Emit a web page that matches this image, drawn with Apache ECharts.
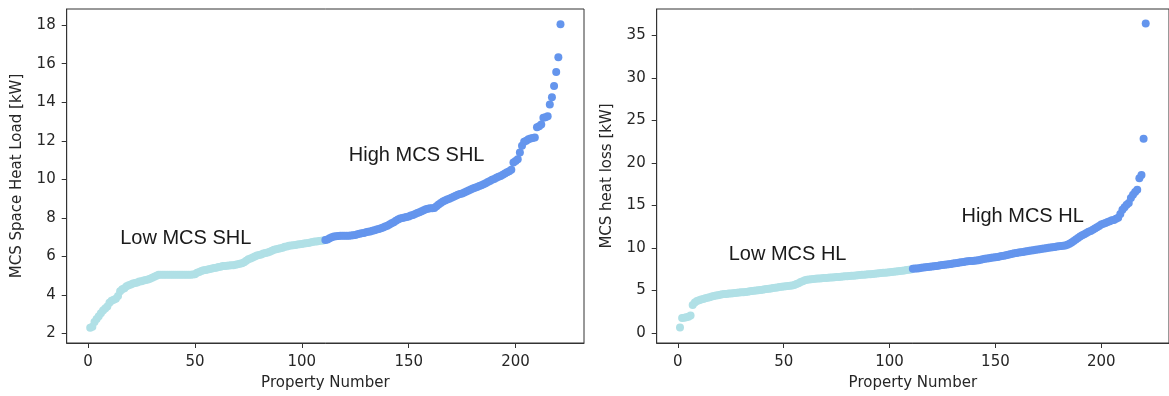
<!DOCTYPE html>
<html>
<head>
<meta charset="utf-8">
<script src="https://cdn.jsdelivr.net/npm/echarts@6/dist/echarts.min.js"></script>
<style>
html,body{margin:0;padding:0;background:#fff;}
#chart{width:1169px;height:396px;}
</style>
</head>
<body>
<div id="chart"></div>
<script>
// ---- data (property numbers start at 1; first 110 = "low", rest = "high") ----
var splitAt = 110;
var shlLow = [
2.3, 2.35, 2.6, 2.75, 2.9, 3.05, 3.2, 3.3, 3.4, 3.6,
3.7, 3.75, 3.8, 3.95, 4.2, 4.3, 4.35, 4.45, 4.5, 4.55,
4.6, 4.62, 4.65, 4.7, 4.72, 4.75, 4.78, 4.8, 4.85, 4.9,
4.95, 5.0, 5.05, 5.05, 5.05, 5.05, 5.05, 5.05, 5.05, 5.05,
5.05, 5.05, 5.05, 5.05, 5.05, 5.05, 5.05, 5.05, 5.06, 5.08,
5.15, 5.2, 5.25, 5.28, 5.3, 5.32, 5.35, 5.38, 5.4, 5.42,
5.45, 5.47, 5.5, 5.5, 5.52, 5.53, 5.55, 5.55, 5.57, 5.6,
5.62, 5.65, 5.7, 5.78, 5.85, 5.9, 5.95, 6.0, 6.05, 6.08,
6.1, 6.15, 6.18, 6.2, 6.25, 6.3, 6.35, 6.38, 6.4, 6.43,
6.45, 6.5, 6.52, 6.55, 6.57, 6.58, 6.6, 6.62, 6.63, 6.65,
6.67, 6.68, 6.7, 6.72, 6.75, 6.77, 6.78, 6.8, 6.82, 6.83
];
var shlHigh = [
6.85, 6.88, 6.95, 7.0, 7.03, 7.05, 7.06, 7.07, 7.07, 7.08,
7.08, 7.08, 7.09, 7.1, 7.12, 7.15, 7.18, 7.2, 7.22, 7.25,
7.28, 7.3, 7.33, 7.36, 7.4, 7.43, 7.47, 7.5, 7.55, 7.6,
7.66, 7.72, 7.78, 7.85, 7.92, 7.97, 8.0, 8.02, 8.05, 8.08,
8.12, 8.15, 8.2, 8.25, 8.3, 8.35, 8.4, 8.45, 8.48, 8.5,
8.5, 8.52, 8.6, 8.7, 8.78, 8.85, 8.9, 8.95, 9.0, 9.05,
9.1, 9.15, 9.2, 9.24, 9.27, 9.32, 9.37, 9.42, 9.47, 9.52,
9.57, 9.6, 9.65, 9.7, 9.75, 9.8, 9.86, 9.92, 9.98, 10.02,
10.08, 10.13, 10.18, 10.24, 10.3, 10.37, 10.42, 10.5, 10.88, 10.95,
11.05, 11.4, 11.74, 11.95, 12.0, 12.08, 12.12, 12.15, 12.17, 12.7,
12.75, 12.85, 13.2, 13.22, 13.28, 13.88, 14.26, 14.85, 15.57, 16.34, 18.05
];
var hlLow = [
0.65, 1.75, 1.8, 1.85, 1.9, 2.05, 3.3, 3.6, 3.75, 3.85,
3.95, 4.0, 4.1, 4.15, 4.2, 4.3, 4.35, 4.4, 4.45, 4.5,
4.55, 4.58, 4.6, 4.63, 4.65, 4.68, 4.7, 4.73, 4.75, 4.78,
4.8, 4.83, 4.86, 4.9, 4.93, 4.96, 5.0, 5.03, 5.06, 5.1,
5.13, 5.16, 5.2, 5.24, 5.28, 5.32, 5.36, 5.4, 5.43, 5.46,
5.5, 5.53, 5.56, 5.6, 5.65, 5.75, 5.85, 6.0, 6.1, 6.2,
6.25, 6.3, 6.33, 6.35, 6.38, 6.4, 6.42, 6.44, 6.46, 6.48,
6.5, 6.52, 6.54, 6.56, 6.58, 6.6, 6.62, 6.64, 6.66, 6.68,
6.7, 6.72, 6.74, 6.76, 6.8, 6.82, 6.84, 6.86, 6.88, 6.9,
6.92, 6.95, 6.98, 7.0, 7.02, 7.05, 7.08, 7.1, 7.12, 7.15,
7.18, 7.2, 7.23, 7.26, 7.3, 7.33, 7.36, 7.4, 7.43, 7.46
];
var hlHigh = [
7.55, 7.58, 7.6, 7.63, 7.66, 7.7, 7.72, 7.75, 7.78, 7.82,
7.85, 7.88, 7.92, 7.96, 8.0, 8.03, 8.06, 8.1, 8.13, 8.16,
8.2, 8.24, 8.28, 8.32, 8.36, 8.4, 8.43, 8.46, 8.48, 8.5,
8.53, 8.57, 8.62, 8.67, 8.72, 8.76, 8.8, 8.84, 8.87, 8.9,
8.95, 9.0, 9.05, 9.1, 9.15, 9.2, 9.26, 9.32, 9.37, 9.42,
9.46, 9.5, 9.54, 9.58, 9.62, 9.66, 9.7, 9.74, 9.78, 9.82,
9.86, 9.9, 9.94, 9.98, 10.02, 10.06, 10.1, 10.13, 10.16, 10.2,
10.23, 10.26, 10.3, 10.38, 10.5, 10.65, 10.82, 11.0, 11.18, 11.35,
11.5, 11.62, 11.75, 11.9, 12.0, 12.15, 12.3, 12.45, 12.6, 12.75,
12.85, 12.95, 13.05, 13.15, 13.25, 13.3, 13.45, 13.55, 14.0, 14.5,
14.8, 15.1, 15.3, 15.87, 16.25, 16.6, 16.85, 18.2, 18.6, 22.85, 36.4
];
var xTicks = [0, 50, 100, 150, 200];
var shlTicks = [2, 4, 6, 8, 10, 12, 14, 16, 18];
var hlTicks = [0, 5, 10, 15, 20, 25, 30, 35];
var xLabel = 'Property Number';
var shlYLabel = 'MCS Space Heat Load [kW]';
var hlYLabel = 'MCS heat loss [kW]';
var shlNotes = [['Low MCS SHL', 15, 6.94], ['High MCS SHL', 122, 11.22]];
var hlNotes = [['Low MCS HL', 24, 9.22], ['High MCS HL', 134, 13.74]];

// ---- build ----
var lowColor = '#B0E0E6', highColor = '#6495ED';
var tickFont = {fontFamily: 'DejaVu Sans', fontSize: 15, color: '#262626'};
function pts(arr, start) { return arr.map(function (v, i) { return [start + i, v]; }); }

function xAxis(gi) {
  return {
    type: 'value', gridIndex: gi, min: -10, max: 232,
    name: xLabel, nameLocation: 'middle', nameGap: 33,
    nameTextStyle: {fontFamily: 'DejaVu Sans', fontSize: 15, color: '#262626'},
    axisLine: {show: true, onZero: false, lineStyle: {color: '#333', width: 1}},
    axisTick: {show: true, length: 5, lineStyle: {color: '#333'}, customValues: xTicks},
    axisLabel: Object.assign({margin: 12, customValues: xTicks}, tickFont),
    splitLine: {show: false}
  };
}
function yAxis(gi, mn, mx, ticks, name) {
  return {
    type: 'value', gridIndex: gi, min: mn, max: mx,
    name: name, nameLocation: 'middle', nameGap: 42,
    nameTextStyle: {fontFamily: 'DejaVu Sans', fontSize: 15, color: '#262626'},
    axisLine: {show: true, onZero: false, lineStyle: {color: '#333', width: 1}},
    axisTick: {show: true, length: 5, lineStyle: {color: '#333'}, customValues: ticks},
    axisLabel: Object.assign({margin: 11, customValues: ticks}, tickFont),
    splitLine: {show: false}
  };
}
function scatter(gi, data, color) {
  return {
    type: 'scatter', xAxisIndex: gi, yAxisIndex: gi, data: data,
    symbolSize: 8, itemStyle: {color: color, opacity: 1}, silent: true, animation: false
  };
}
function notes(gi, list) {
  return {
    type: 'scatter', xAxisIndex: gi, yAxisIndex: gi, symbolSize: 0, silent: true, animation: false,
    itemStyle: {color: '#000', opacity: 1},
    data: list.map(function (n) { return {value: [n[1], n[2]], name: n[0]}; }),
    label: {
      show: true, position: [0, 0], align: 'left', verticalAlign: 'middle',
      formatter: function (p) { return p.name; },
      fontFamily: 'Liberation Sans', fontSize: 20, color: '#1a1a1a',
      textBorderWidth: 0, opacity: 1
    },
    z: 5
  };
}

var chart = echarts.init(document.getElementById('chart'), null, {renderer: 'canvas'});
chart.setOption({
  animation: false,
  backgroundColor: '#fff',
  grid: [
    {left: 66.7, top: 9, width: 517.3, height: 337.7, show: true, borderColor: '#333', borderWidth: 1, containLabel: false},
    {left: 656.7, top: 9, width: 517.3, height: 337.7, show: true, borderColor: '#333', borderWidth: 1, containLabel: false}
  ],
  xAxis: [xAxis(0), xAxis(1)],
  yAxis: [yAxis(0, 1.51, 18.84, shlTicks, shlYLabel), yAxis(1, -1.18, 38.12, hlTicks, hlYLabel)],
  series: [
    scatter(0, pts(shlLow, 1), lowColor),
    scatter(0, pts(shlHigh, splitAt + 1), highColor),
    scatter(1, pts(hlLow, 1), lowColor),
    scatter(1, pts(hlHigh, splitAt + 1), highColor),
    notes(0, shlNotes),
    notes(1, hlNotes)
  ]
});
</script>
</body>
</html>
